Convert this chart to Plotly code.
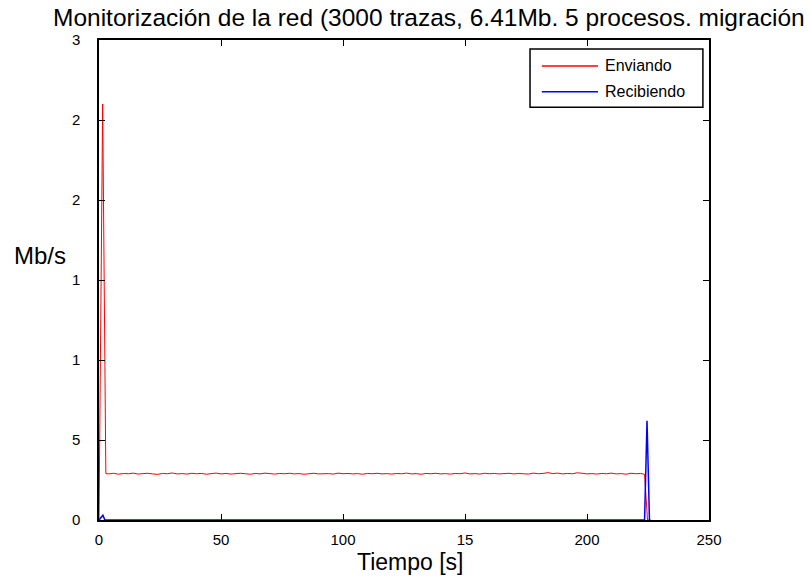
import plotly.graph_objects as go

# Enviando (sending) series
send_t = [0, 1.5, 2.8] + list(range(4, 224, 2)) + [223.6, 224.8, 226.0]
send_plateau = [
    0.288, 0.292, 0.286, 0.291, 0.289, 0.293, 0.287, 0.290, 0.292, 0.288,
    0.285, 0.291, 0.289, 0.294, 0.288, 0.290, 0.287, 0.292, 0.289, 0.291,
    0.286, 0.290, 0.293, 0.288, 0.291, 0.287, 0.290, 0.292, 0.289, 0.286,
    0.291, 0.288, 0.293, 0.290, 0.287, 0.291, 0.289, 0.292, 0.288, 0.290,
    0.286, 0.289, 0.292, 0.288, 0.291, 0.290, 0.287, 0.293, 0.289, 0.291,
    0.288, 0.290, 0.286, 0.291, 0.289, 0.292, 0.288, 0.290, 0.287, 0.291,
    0.289, 0.293, 0.288, 0.290, 0.286, 0.291, 0.289, 0.292, 0.288, 0.290,
    0.287, 0.291, 0.289, 0.294, 0.288, 0.290, 0.287, 0.292, 0.289, 0.291,
    0.288, 0.290, 0.292, 0.288, 0.291, 0.289, 0.287, 0.293, 0.289, 0.291,
    0.296, 0.290, 0.293, 0.288, 0.291, 0.289, 0.295, 0.292, 0.288, 0.290,
    0.287, 0.291, 0.289, 0.293, 0.288, 0.290, 0.286, 0.292, 0.289, 0.291,
]
send_v = [0, 2.6, 0.29] + send_plateau[:110] + [0.285, 0.0, 0.0]

# Recibiendo (receiving) series
recv_t = [0, 1.6, 2.4, 223.6, 224.6, 225.6, 226.0]
recv_v = [0, 0.03, 0, 0, 0.62, 0, 0]

series_names = ["Enviando", "Recibiendo"]
series_colors = ["#ff0000", "#0000ff"]

x_ticks = [0, 50, 100, 150, 200, 250]
x_tick_labels = ["0", "50", "100", "15", "200", "250"]
y_ticks = [0, 0.5, 1, 1.5, 2, 2.5, 3]
y_tick_labels = ["0", "5", "1", "1", "2", "2", "3"]

title_text = "Monitorización de la red (3000 trazas, 6.41Mb. 5 procesos. migración"

FONT = "Liberation Sans, Arial, sans-serif"

fig = go.Figure()
fig.add_trace(go.Scatter(x=send_t, y=send_v, mode="lines", name=series_names[0],
                         line=dict(color=series_colors[0], width=1), showlegend=False))
fig.add_trace(go.Scatter(x=recv_t, y=recv_v, mode="lines", name=series_names[1],
                         line=dict(color=series_colors[1], width=1.5), showlegend=False))

axis_common = dict(showgrid=False, zeroline=False, showline=True, mirror="ticks",
                   linecolor="black", linewidth=1.5, ticks="inside", ticklen=6,
                   tickcolor="black", tickfont=dict(family=FONT, size=15, color="black"))

# Manual legend (box, line samples, labels) in paper coordinates
legend_box = dict(type="rect", xref="paper", yref="paper", x0=0.7066, x1=0.990,
                  y0=0.860, y1=0.981, line=dict(color="black", width=1.5),
                  fillcolor="white", layer="above")
legend_rows_y = [0.946, 0.892]
shapes = [legend_box]
annotations = []
for name, color, yy in zip(series_names, series_colors, legend_rows_y):
    shapes.append(dict(type="line", xref="paper", yref="paper", x0=0.726, x1=0.818,
                       y0=yy, y1=yy, line=dict(color=color, width=1.5), layer="above"))
    annotations.append(dict(text=name, xref="paper", yref="paper", x=0.826, y=yy,
                            xanchor="left", yanchor="middle", showarrow=False,
                            font=dict(family=FONT, size=16, color="black")))

annotations += [
    dict(text=title_text, xref="paper", yref="paper", x=-0.079, y=1.046,
         xanchor="left", yanchor="middle", showarrow=False,
         font=dict(family=FONT, size=24.5, color="black")),
    dict(text="Tiempo [s]", xref="paper", yref="paper", x=0.511, y=-0.0875,
         xanchor="center", yanchor="middle", showarrow=False,
         font=dict(family=FONT, size=23, color="black")),
    dict(text="Mb/s", xref="paper", yref="paper", x=-0.0967, y=0.55,
         xanchor="center", yanchor="middle", showarrow=False,
         font=dict(family=FONT, size=24, color="black")),
]

fig.update_layout(
    width=810, height=578,
    margin=dict(l=99, r=101, t=40, b=58),
    paper_bgcolor="white", plot_bgcolor="white",
    font=dict(family=FONT, color="black"),
    showlegend=False,
    xaxis=dict(range=[0, 250], tickvals=x_ticks, ticktext=x_tick_labels,
               ticklabelstandoff=5, **axis_common),
    yaxis=dict(range=[0, 3], tickvals=y_ticks, ticktext=y_tick_labels,
               ticklabelstandoff=14, **axis_common),
    shapes=shapes,
    annotations=annotations,
)

fig.write_html("out.html")
